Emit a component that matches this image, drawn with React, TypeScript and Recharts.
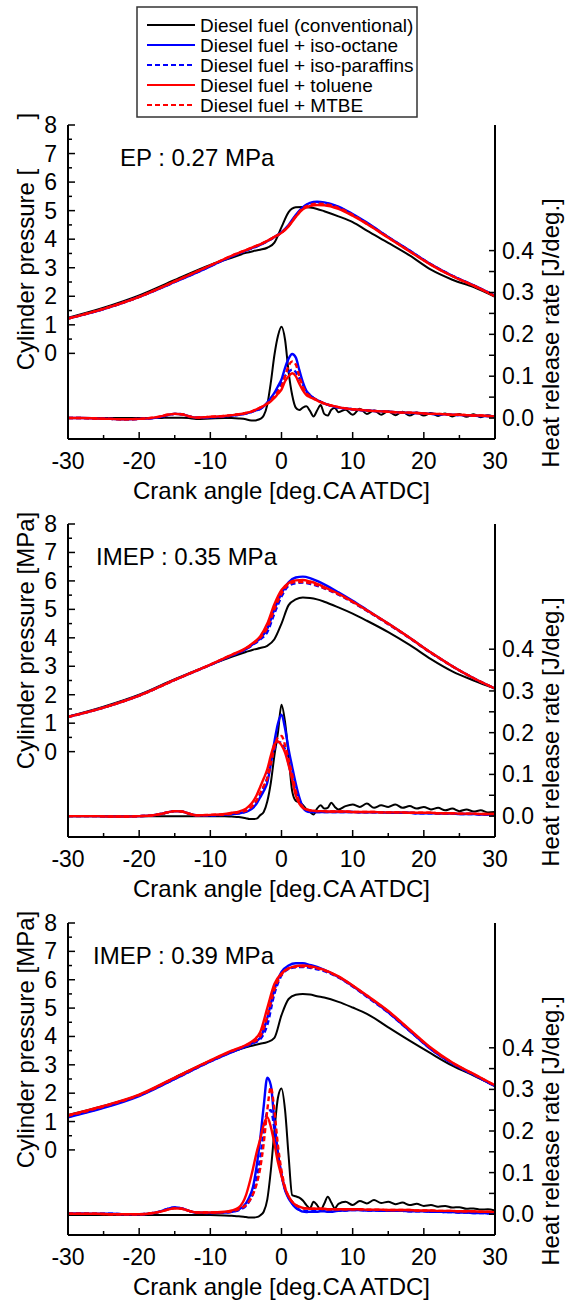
import React from 'react';
import { ComposedChart, Line, XAxis, YAxis } from 'recharts';

const FONT = '"Liberation Sans", Arial, Helvetica, sans-serif';

// crank angles [deg.CA ATDC]
const P_ANGLES = [-30, -25, -20, -15, -10, -7, -5, -4, -3, -2, -1, 0, 1, 2, 3, 4, 5, 6, 8, 10, 12, 15, 18, 21, 24, 27, 30];
const H_ANGLES = [
  -30, -28, -26, -24, -22, -20, -18,
  -17, -16, -15, -14, -13, -12,
  -10, -8, -7, -6, -5,
  -4.5, -4, -3.5, -3, -2.5, -2, -1.5, -1, -0.5, 0, 0.5, 1, 1.5, 2, 2.5, 3, 3.5, 4, 4.5, 5, 5.5, 6, 6.5, 7, 7.5, 8,
  9, 10, 11, 12, 13, 14, 15, 16, 17, 18, 19, 20, 21, 22, 23, 24, 25, 26, 27, 28, 29, 30,
];

const X_TICKS = [-30, -25, -20, -15, -10, -5, 0, 5, 10, 15, 20, 25, 30];
const P_TICKS = [0, 0.5, 1, 1.5, 2, 2.5, 3, 3.5, 4, 4.5, 5, 5.5, 6, 6.5, 7, 7.5, 8];
const H_TICKS = [0, 0.05, 0.1, 0.15, 0.2, 0.25, 0.3, 0.35, 0.4];

const FUELS = [
  { key: 'conv', name: 'Diesel fuel (conventional)', color: '#000000', dash: undefined, width: 2 },
  { key: 'iso', name: 'Diesel fuel + iso-octane', color: '#0000ff', dash: undefined, width: 2.4 },
  { key: 'para', name: 'Diesel fuel + iso-paraffins', color: '#0000ff', dash: '5 3', width: 2.4 },
  { key: 'tol', name: 'Diesel fuel + toluene', color: '#ff0000', dash: undefined, width: 2.4 },
  { key: 'mtbe', name: 'Diesel fuel + MTBE', color: '#ff0000', dash: '5 3', width: 2.4 },
];

// ---- panel 1 : EP 0.27 MPa ----
const P1_CONV = [1.25, 1.6, 2.03, 2.57, 3.1, 3.35, 3.52, 3.58, 3.63, 3.7, 3.88, 4.42, 4.95, 5.12, 5.13, 5.11, 5.06, 4.98, 4.8, 4.6, 4.3, 3.87, 3.43, 2.93, 2.58, 2.32, 1.98];
const P1_ISO = [1.22, 1.55, 1.98, 2.5, 3.05, 3.4, 3.6, 3.7, 3.8, 3.93, 4.08, 4.25, 4.5, 4.85, 5.12, 5.27, 5.31, 5.29, 5.14, 4.88, 4.58, 4.08, 3.6, 3.12, 2.72, 2.38, 2.02];
const P1_PARA = [1.22, 1.55, 1.98, 2.5, 3.05, 3.4, 3.6, 3.7, 3.8, 3.93, 4.07, 4.23, 4.47, 4.82, 5.1, 5.25, 5.29, 5.27, 5.12, 4.86, 4.56, 4.07, 3.6, 3.12, 2.72, 2.38, 2.02];
const P1_TOL = [1.22, 1.56, 1.98, 2.52, 3.08, 3.42, 3.62, 3.72, 3.82, 3.94, 4.08, 4.22, 4.45, 4.78, 5.05, 5.16, 5.2, 5.19, 5.06, 4.82, 4.53, 4.05, 3.57, 3.1, 2.7, 2.37, 2.0];
const P1_MTBE = [1.22, 1.56, 1.98, 2.52, 3.08, 3.42, 3.62, 3.72, 3.82, 3.94, 4.08, 4.23, 4.47, 4.8, 5.08, 5.2, 5.24, 5.23, 5.1, 4.85, 4.55, 4.06, 3.58, 3.11, 2.71, 2.37, 2.01];

const H1_CONV = [
  0, 0, 0, 0, 0, 0, 0,
  0, 0.001, 0.001, 0.001, 0, -0.002,
  -0.001, 0, 0, -0.001, -0.003,
  -0.005, -0.006, -0.005, -0.002, 0.006, 0.032, 0.085, 0.15, 0.196, 0.218, 0.187, 0.11, 0.055, 0.025, 0.019, 0.025, 0.028, 0.017, 0.004, 0.018, 0.031, 0.01, 0.006, 0.02, 0.024, 0.014,
  0.02, 0.008, 0.022, 0.01, 0.018, 0.008, 0.016, 0.007, 0.015, 0.006, 0.013, 0.006, 0.012, 0.005, 0.011, 0.004, 0.01, 0.003, 0.009, 0.002, 0.007, 0.003,
];
const H1_ISO = [
  0, 0, -0.001, -0.002, -0.003, -0.002, 0,
  0.003, 0.007, 0.01, 0.009, 0.004, 0.001,
  0.002, 0.004, 0.006, 0.008, 0.011,
  0.013, 0.016, 0.019, 0.022, 0.028, 0.037, 0.048, 0.06, 0.076, 0.092, 0.12, 0.142, 0.153, 0.145, 0.115, 0.086, 0.065, 0.055, 0.048, 0.043, 0.039, 0.035, 0.032, 0.029, 0.027, 0.025,
  0.023, 0.021, 0.019, 0.018, 0.017, 0.016, 0.015, 0.014, 0.013, 0.012, 0.012, 0.011, 0.01, 0.009, 0.009, 0.008, 0.007, 0.007, 0.006, 0.005, 0.005, 0.004,
];
const H1_PARA = [
  0, 0, -0.001, -0.002, -0.003, -0.002, 0,
  0.003, 0.007, 0.01, 0.009, 0.004, 0.001,
  0.002, 0.004, 0.006, 0.008, 0.011,
  0.013, 0.016, 0.019, 0.022, 0.028, 0.036, 0.046, 0.057, 0.07, 0.084, 0.1, 0.11, 0.116, 0.11, 0.095, 0.08, 0.064, 0.055, 0.048, 0.043, 0.039, 0.035, 0.032, 0.029, 0.027, 0.025,
  0.023, 0.021, 0.019, 0.018, 0.017, 0.016, 0.015, 0.014, 0.013, 0.012, 0.012, 0.011, 0.01, 0.009, 0.009, 0.008, 0.007, 0.007, 0.006, 0.005, 0.005, 0.004,
];
const H1_TOL = [
  0, 0, -0.001, -0.002, -0.003, -0.002, 0.001,
  0.004, 0.008, 0.01, 0.009, 0.004, 0.001,
  0.003, 0.005, 0.007, 0.009, 0.012,
  0.014, 0.017, 0.021, 0.025, 0.029, 0.034, 0.04, 0.048, 0.058, 0.068, 0.088, 0.1, 0.107, 0.1, 0.082, 0.066, 0.055, 0.05, 0.046, 0.042, 0.038, 0.035, 0.032, 0.03, 0.028, 0.026,
  0.023, 0.021, 0.02, 0.018, 0.017, 0.016, 0.015, 0.014, 0.013, 0.013, 0.012, 0.011, 0.01, 0.01, 0.009, 0.008, 0.008, 0.007, 0.006, 0.006, 0.005, 0.004,
];
const H1_MTBE = [
  0, 0, -0.001, -0.002, -0.003, -0.002, 0.001,
  0.004, 0.008, 0.01, 0.009, 0.004, 0.001,
  0.003, 0.005, 0.007, 0.009, 0.012,
  0.014, 0.017, 0.021, 0.025, 0.029, 0.035, 0.042, 0.052, 0.063, 0.075, 0.1, 0.125, 0.135, 0.128, 0.1, 0.075, 0.06, 0.052, 0.047, 0.043, 0.039, 0.035, 0.032, 0.03, 0.028, 0.026,
  0.023, 0.021, 0.02, 0.018, 0.017, 0.016, 0.015, 0.014, 0.013, 0.013, 0.012, 0.011, 0.01, 0.01, 0.009, 0.008, 0.008, 0.007, 0.006, 0.006, 0.005, 0.004,
];

// ---- panel 2 : IMEP 0.35 MPa ----
const P2_CONV = [1.23, 1.58, 2.0, 2.55, 3.05, 3.33, 3.5, 3.58, 3.64, 3.72, 3.95, 4.5, 5.15, 5.35, 5.42, 5.4, 5.35, 5.27, 5.07, 4.85, 4.6, 4.2, 3.75, 3.25, 2.82, 2.5, 2.22];
const P2_ISO = [1.22, 1.55, 1.97, 2.52, 3.05, 3.38, 3.6, 3.78, 3.98, 4.32, 5.0, 5.56, 5.95, 6.12, 6.15, 6.1, 6.0, 5.88, 5.6, 5.3, 4.98, 4.5, 4.0, 3.48, 3.0, 2.58, 2.22];
const P2_PARA = [1.22, 1.55, 1.97, 2.52, 3.05, 3.38, 3.6, 3.76, 3.94, 4.2, 4.85, 5.45, 5.83, 5.92, 5.94, 5.9, 5.83, 5.74, 5.52, 5.25, 4.95, 4.48, 3.99, 3.47, 3.0, 2.58, 2.22];
const P2_TOL = [1.22, 1.55, 1.97, 2.52, 3.06, 3.4, 3.64, 3.82, 4.05, 4.5, 5.18, 5.68, 5.93, 6.02, 6.03, 5.98, 5.9, 5.78, 5.55, 5.27, 4.97, 4.5, 4.0, 3.48, 3.0, 2.58, 2.22];
const P2_MTBE = [1.22, 1.55, 1.97, 2.52, 3.06, 3.4, 3.62, 3.8, 4.0, 4.35, 5.0, 5.55, 5.88, 5.96, 5.96, 5.92, 5.85, 5.75, 5.53, 5.26, 4.96, 4.49, 4.0, 3.48, 3.0, 2.58, 2.22];

const H2_CONV = [
  0, 0, 0, 0, 0, 0, 0,
  0, 0, 0, 0, 0, 0,
  0, 0, -0.001, -0.002, -0.005,
  -0.007, -0.007, -0.006, 0.002, 0.01, 0.035, 0.08, 0.145, 0.2, 0.267, 0.225, 0.145, 0.06, 0.037, 0.033, 0.027, 0.016, 0.01, 0.004, 0.018, 0.026, 0.018, 0.02, 0.032, 0.022, 0.016,
  0.024, 0.028, 0.022, 0.03, 0.02, 0.026, 0.022, 0.028, 0.02, 0.024, 0.018, 0.022, 0.016, 0.02, 0.014, 0.018, 0.012, 0.016, 0.011, 0.014, 0.009, 0.01,
];
const H2_ISO = [
  0, 0, 0, -0.001, -0.001, 0, 0.002,
  0.005, 0.009, 0.012, 0.011, 0.006, 0.002,
  0.002, 0.003, 0.005, 0.007, 0.01,
  0.014, 0.02, 0.03, 0.045, 0.06, 0.08, 0.125, 0.178, 0.222, 0.243, 0.21, 0.16, 0.118, 0.078, 0.045, 0.022, 0.012, 0.01, 0.01, 0.01, 0.01, 0.01, 0.01, 0.01, 0.01, 0.01,
  0.01, 0.01, 0.009, 0.009, 0.009, 0.009, 0.008, 0.008, 0.008, 0.008, 0.007, 0.007, 0.007, 0.006, 0.006, 0.006, 0.005, 0.005, 0.005, 0.004, 0.004, 0.004,
];
const H2_PARA = [
  0, 0, 0, -0.001, -0.001, 0, 0.002,
  0.005, 0.009, 0.012, 0.011, 0.006, 0.002,
  0.002, 0.003, 0.005, 0.007, 0.011,
  0.017, 0.025, 0.036, 0.05, 0.07, 0.092, 0.13, 0.16, 0.178, 0.175, 0.16, 0.125, 0.09, 0.058, 0.035, 0.02, 0.013, 0.011, 0.01, 0.01, 0.01, 0.01, 0.01, 0.01, 0.01, 0.01,
  0.01, 0.01, 0.009, 0.009, 0.009, 0.009, 0.008, 0.008, 0.008, 0.008, 0.007, 0.007, 0.007, 0.006, 0.006, 0.006, 0.005, 0.005, 0.005, 0.004, 0.004, 0.004,
];
const H2_TOL = [
  0, 0, 0, -0.001, -0.001, 0, 0.002,
  0.005, 0.009, 0.012, 0.011, 0.006, 0.002,
  0.003, 0.005, 0.008, 0.011, 0.018,
  0.025, 0.035, 0.05, 0.07, 0.09, 0.112, 0.145, 0.172, 0.179, 0.17, 0.152, 0.122, 0.088, 0.05, 0.03, 0.02, 0.016, 0.014, 0.013, 0.012, 0.012, 0.012, 0.011, 0.011, 0.011, 0.011,
  0.011, 0.01, 0.01, 0.01, 0.01, 0.009, 0.009, 0.009, 0.009, 0.008, 0.008, 0.008, 0.008, 0.007, 0.007, 0.007, 0.006, 0.006, 0.006, 0.005, 0.005, 0.005,
];
const H2_MTBE = [
  0, 0, 0, -0.001, -0.001, 0, 0.002,
  0.005, 0.009, 0.012, 0.011, 0.006, 0.002,
  0.003, 0.004, 0.006, 0.009, 0.013,
  0.018, 0.026, 0.038, 0.055, 0.072, 0.09, 0.125, 0.165, 0.188, 0.192, 0.17, 0.135, 0.1, 0.06, 0.035, 0.022, 0.016, 0.014, 0.013, 0.012, 0.012, 0.012, 0.011, 0.011, 0.011, 0.011,
  0.011, 0.01, 0.01, 0.01, 0.01, 0.009, 0.009, 0.009, 0.009, 0.008, 0.008, 0.008, 0.008, 0.007, 0.007, 0.007, 0.006, 0.006, 0.006, 0.005, 0.005, 0.005,
];

// ---- panel 3 : IMEP 0.39 MPa ----
const P3_CONV = [1.23, 1.55, 1.94, 2.55, 3.15, 3.45, 3.62, 3.68, 3.74, 3.8, 3.95, 4.75, 5.32, 5.47, 5.5, 5.48, 5.42, 5.37, 5.22, 5.02, 4.8, 4.32, 3.85, 3.4, 2.97, 2.62, 2.25];
const P3_ISO = [1.15, 1.48, 1.9, 2.5, 3.12, 3.45, 3.65, 3.78, 3.95, 4.65, 5.65, 6.28, 6.5, 6.58, 6.58, 6.52, 6.45, 6.35, 6.1, 5.78, 5.42, 4.85, 4.2, 3.55, 3.05, 2.65, 2.25];
const P3_PARA = [1.17, 1.5, 1.92, 2.5, 3.12, 3.45, 3.65, 3.76, 3.9, 4.4, 5.5, 6.15, 6.38, 6.44, 6.45, 6.42, 6.37, 6.3, 6.08, 5.76, 5.4, 4.84, 4.2, 3.55, 3.05, 2.65, 2.25];
const P3_TOL = [1.22, 1.55, 1.95, 2.55, 3.16, 3.5, 3.7, 3.85, 4.15, 5.0, 5.85, 6.22, 6.4, 6.48, 6.5, 6.48, 6.42, 6.35, 6.12, 5.8, 5.45, 4.9, 4.25, 3.6, 3.08, 2.68, 2.28];
const P3_MTBE = [1.2, 1.53, 1.93, 2.53, 3.14, 3.48, 3.68, 3.8, 4.0, 4.7, 5.65, 6.18, 6.4, 6.46, 6.47, 6.45, 6.4, 6.33, 6.1, 5.79, 5.43, 4.88, 4.23, 3.58, 3.07, 2.67, 2.27];

const H3_CONV = [
  -0.002, -0.002, -0.002, -0.002, -0.002, -0.002, -0.002,
  -0.002, -0.002, -0.002, -0.002, -0.002, -0.002,
  -0.002, -0.003, -0.004, -0.005, -0.007,
  -0.008, -0.008, -0.007, -0.003, 0.006, 0.035, 0.105, 0.2, 0.28, 0.302, 0.25, 0.14, 0.046, 0.043, 0.04, 0.033, 0.022, 0.014, 0.03, 0.022, 0.01, 0.025, 0.042, 0.028, 0.014, 0.025,
  0.03, 0.022, 0.032, 0.026, 0.034, 0.027, 0.03, 0.024, 0.028, 0.022, 0.025, 0.02, 0.022, 0.018, 0.02, 0.016, 0.017, 0.013, 0.014, 0.011, 0.012, 0.009,
];
const H3_ISO = [
  0.002, 0.002, 0.001, 0.001, 0, 0, 0.003,
  0.007, 0.013, 0.016, 0.014, 0.008, 0.004,
  0.003, 0.004, 0.006, 0.011, 0.026,
  0.042, 0.066, 0.115, 0.18, 0.26, 0.328, 0.31, 0.225, 0.145, 0.095, 0.058, 0.038, 0.025, 0.015, 0.01, 0.006, 0.005, 0.006, 0.006, 0.006, 0.007, 0.007, 0.006, 0.006, 0.007, 0.008,
  0.009, 0.01, 0.01, 0.009, 0.009, 0.008, 0.008, 0.008, 0.008, 0.007, 0.007, 0.007, 0.006, 0.006, 0.005, 0.005, 0.004, 0.004, 0.003, 0.003, 0.002, 0.002,
];
const H3_PARA = [
  0.002, 0.002, 0.001, 0.001, 0, 0, 0.003,
  0.007, 0.013, 0.016, 0.014, 0.008, 0.004,
  0.003, 0.004, 0.006, 0.01, 0.02,
  0.032, 0.05, 0.085, 0.135, 0.2, 0.245, 0.25, 0.205, 0.145, 0.095, 0.06, 0.04, 0.026, 0.016, 0.011, 0.009, 0.008, 0.008, 0.008, 0.008, 0.008, 0.008, 0.008, 0.008, 0.008, 0.009,
  0.009, 0.01, 0.01, 0.009, 0.009, 0.008, 0.008, 0.008, 0.008, 0.007, 0.007, 0.007, 0.006, 0.006, 0.005, 0.005, 0.004, 0.004, 0.003, 0.003, 0.002, 0.002,
];
const H3_TOL = [
  0.001, 0.001, 0.001, 0, 0, 0, 0.003,
  0.006, 0.011, 0.014, 0.013, 0.008, 0.004,
  0.004, 0.006, 0.009, 0.016, 0.045,
  0.075, 0.11, 0.148, 0.18, 0.215, 0.233, 0.21, 0.17, 0.125, 0.092, 0.062, 0.043, 0.03, 0.022, 0.018, 0.015, 0.014, 0.013, 0.013, 0.013, 0.013, 0.013, 0.012, 0.012, 0.012, 0.012,
  0.012, 0.012, 0.012, 0.011, 0.011, 0.011, 0.01, 0.01, 0.01, 0.01, 0.009, 0.009, 0.009, 0.008, 0.008, 0.008, 0.007, 0.007, 0.007, 0.006, 0.006, 0.005,
];
const H3_MTBE = [
  0.001, 0.001, 0.001, 0, 0, 0, 0.003,
  0.006, 0.011, 0.014, 0.013, 0.008, 0.004,
  0.004, 0.005, 0.007, 0.012, 0.022,
  0.032, 0.048, 0.072, 0.11, 0.17, 0.25, 0.305, 0.25, 0.165, 0.105, 0.065, 0.042, 0.03, 0.022, 0.017, 0.015, 0.014, 0.013, 0.013, 0.013, 0.013, 0.012, 0.012, 0.012, 0.012, 0.012,
  0.012, 0.012, 0.012, 0.011, 0.011, 0.011, 0.01, 0.01, 0.01, 0.01, 0.009, 0.009, 0.009, 0.008, 0.008, 0.008, 0.007, 0.007, 0.007, 0.006, 0.006, 0.005,
];

const PANELS = [
  { label: 'EP : 0.27 MPa', labelX: 120, top: 125, plotH: 314, hideUnit: true,
    pressure: [P1_CONV, P1_ISO, P1_PARA, P1_TOL, P1_MTBE], hrr: [H1_CONV, H1_ISO, H1_PARA, H1_TOL, H1_MTBE] },
  { label: 'IMEP : 0.35 MPa', labelX: 96, top: 524, plotH: 313, hideUnit: false,
    pressure: [P2_CONV, P2_ISO, P2_PARA, P2_TOL, P2_MTBE], hrr: [H2_CONV, H2_ISO, H2_PARA, H2_TOL, H2_MTBE] },
  { label: 'IMEP : 0.39 MPa', labelX: 93, top: 923, plotH: 312, hideUnit: false,
    pressure: [P3_CONV, P3_ISO, P3_PARA, P3_TOL, P3_MTBE], hrr: [H3_CONV, H3_ISO, H3_PARA, H3_TOL, H3_MTBE] },
];

const toRows = (xs: number[], ys: number[]) => xs.map((x, i) => ({ x, y: ys[i] }));

const W = 572;
const MT = 20;
const XH = 65;
const LEFT_W = 68;
const RIGHT_W = 77;

const BottomTick = (props: any) => {
  const { x, y, payload } = props;
  const major = payload.value % 10 === 0;
  return (
    <g>
      <line x1={x} x2={x} y1={y} y2={y - (major ? 7 : 4)} stroke="#000" strokeWidth={1.5} />
      {major && (
        <text x={x} y={y + 22} textAnchor="middle" dominantBaseline="central" fontSize={23} fontFamily={FONT} fill="#000">
          {payload.value}
        </text>
      )}
    </g>
  );
};

const LeftTick = (props: any) => {
  const { x, y, payload } = props;
  const major = Number.isInteger(payload.value);
  return (
    <g>
      <line x1={x} x2={x + (major ? 7 : 4)} y1={y} y2={y} stroke="#000" strokeWidth={1.5} />
      {major && (
        <text x={x - 11} y={y} textAnchor="end" dominantBaseline="central" fontSize={23} fontFamily={FONT} fill="#000">
          {payload.value}
        </text>
      )}
    </g>
  );
};

const RightTick = (props: any) => {
  const { x, y, payload } = props;
  const v = payload.value;
  const major = Math.abs(v * 10 - Math.round(v * 10)) < 1e-6;
  return (
    <g>
      <line x1={x} x2={x - 6} y1={y} y2={y} stroke="#000" strokeWidth={1.5} />
      {major && (
        <text x={x + 7} y={y} textAnchor="start" dominantBaseline="central" fontSize={23} fontFamily={FONT} fill="#000">
          {v.toFixed(1)}
        </text>
      )}
    </g>
  );
};

function Panel({ panel }: { panel: typeof PANELS[number] }) {
  const H = MT + panel.plotH + XH;
  const axisLine = { stroke: '#000', strokeWidth: 2 };
  return (
    <div style={{ position: 'absolute', left: 0, top: panel.top - MT, width: W, height: H }}>
      <ComposedChart width={W} height={H} margin={{ top: MT, right: 0, bottom: 0, left: 0 }}>
        <XAxis xAxisId="b" dataKey="x" type="number" domain={[-30, 30]} ticks={X_TICKS} interval={0}
          tickLine={false} tickSize={0} tickMargin={0} tick={(p: any) => <BottomTick {...p} />}
          height={XH} axisLine={axisLine} allowDataOverflow />
        <XAxis xAxisId="t" orientation="top" type="number" domain={[-30, 30]} height={0}
          tick={false} tickLine={false} axisLine={axisLine} />
        <YAxis yAxisId="p" type="number" domain={[-3, 8]} ticks={P_TICKS} interval={0} width={LEFT_W}
          tickLine={false} tickSize={0} tickMargin={0} tick={(p: any) => <LeftTick {...p} />}
          axisLine={axisLine} allowDataOverflow />
        <YAxis yAxisId="h" orientation="right" type="number" domain={[-0.05, 0.7]} ticks={H_TICKS} interval={0}
          width={RIGHT_W} tickLine={false} tickSize={0} tickMargin={0} tick={(p: any) => <RightTick {...p} />}
          axisLine={axisLine} allowDataOverflow />
        {FUELS.map((f, i) => (
          <Line key={'p' + f.key} xAxisId="b" yAxisId="p" data={toRows(P_ANGLES, panel.pressure[i])} dataKey="y"
            type="monotone" stroke={f.color} strokeWidth={f.width} strokeDasharray={f.dash} dot={false}
            isAnimationActive={false} />
        ))}
        {FUELS.map((f, i) => (
          <Line key={'h' + f.key} xAxisId="b" yAxisId="h" data={toRows(H_ANGLES, panel.hrr[i])} dataKey="y"
            type="monotone" stroke={f.color} strokeWidth={f.width} strokeDasharray={f.dash} dot={false}
            isAnimationActive={false} />
        ))}
      </ComposedChart>
      <svg width={W} height={H} style={{ position: 'absolute', left: 0, top: 0, pointerEvents: 'none' }}>
        <g fontFamily={FONT} fill="#000">
          <text x={panel.labelX} y={MT + 32} fontSize={24} dominantBaseline="central">{panel.label}</text>
          <text x={25.5} y={MT + 116.5} fontSize={24} textAnchor="middle" dominantBaseline="central"
            transform={`rotate(-90, 25.5, ${MT + 116.5})`}>
            Cylinder pressure [{panel.hideUnit ? <tspan fillOpacity={0}>MPa</tspan> : 'MPa'}]
          </text>
          <text x={550} y={MT + 208} fontSize={24} textAnchor="middle" dominantBaseline="central"
            transform={`rotate(-90, 550, ${MT + 208})`}>
            Heat release rate [J/deg.]
          </text>
          <text x={(LEFT_W + W - RIGHT_W) / 2} y={MT + panel.plotH + 51} fontSize={24} textAnchor="middle"
            dominantBaseline="central">
            Crank angle [deg.CA ATDC]
          </text>
        </g>
      </svg>
    </div>
  );
}

function LegendBox() {
  return (
    <svg width={W} height={125} style={{ position: 'absolute', left: 0, top: 0 }}>
      <rect x={137} y={7} width={280} height={110} fill="#fff" stroke="#333" strokeWidth={1.5} />
      {FUELS.map((f, i) => {
        const y = 25 + i * 20;
        return (
          <g key={f.key}>
            <line x1={147} x2={195} y1={y} y2={y} stroke={f.color} strokeWidth={2} strokeDasharray={f.dash} />
            <text x={200} y={y} fontSize={19} fontFamily={FONT} dominantBaseline="central" fill="#000">{f.name}</text>
          </g>
        );
      })}
    </svg>
  );
}

export default function App() {
  return (
    <div style={{ position: 'absolute', left: 0, top: 0, width: W, height: 1304, background: '#fff', overflow: 'hidden' }}>
      {PANELS.map((p, i) => <Panel key={i} panel={p} />)}
      <LegendBox />
    </div>
  );
}
